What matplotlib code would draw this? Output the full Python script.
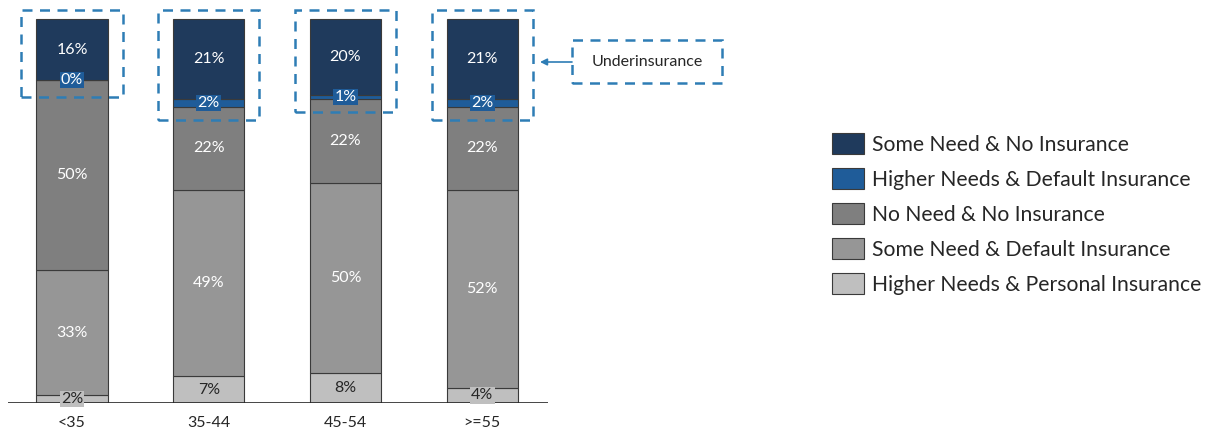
import matplotlib
matplotlib.use("Agg")
import matplotlib.pyplot as plt
from matplotlib.patches import Rectangle, Patch
import numpy as np

plt.rcParams['font.family'] = ['Lato', 'DejaVu Sans']

# Age groups and the share of each segment (bottom to top)
age_groups = ["<35", "35-44", "45-54", ">=55"]
segment_names = [
    "Higher Needs & Personal Insurance",
    "Some Need & Default Insurance",
    "No Need & No Insurance",
    "Higher Needs & Default Insurance",
    "Some Need & No Insurance",
]
higher_personal = [2, 7, 8, 4]
some_default = [33, 49, 50, 52]
no_need_none = [50, 22, 22, 22]
higher_default = [0, 2, 1, 2]
some_none = [16, 21, 20, 21]

series = [higher_personal, some_default, no_need_none, higher_default, some_none]
colors = ["#BFBFBF", "#969696", "#7F7F7F", "#1F5C99", "#1F3A5C"]
text_colors = ["#262626", "white", "white", "white", "white"]
callout_text = "Underinsurance"

W, H = 1223, 437
fig = plt.figure(figsize=(W / 100, H / 100), dpi=100)
ax = fig.add_axes([0, (H - 403) / H, 1, 399 / H])

# pixel layout expressed through bar centres
px_left, px_right = 8, 548
c0, step = 72, 136.7
ax.set_xlim((0 - c0) / step, (W - c0) / step)
ax.set_ylim(0, 105)
ax.axis("off")

x = np.arange(len(age_groups))
bar_w = 0.52
bottom = np.zeros(len(age_groups))
for vals, col, tcol in zip(series, colors, text_colors):
    vals = np.array(vals, dtype=float)
    ax.bar(x, vals, bar_w, bottom=bottom, color=col, edgecolor="#3A3A3A",
           linewidth=0.8, zorder=2)
    for xi, b, v in zip(x, bottom, vals):
        yc = b + v / 2
        if v < 5:
            ax.text(xi, yc, f"{int(v)}%", ha="center", va="center",
                    color=tcol, fontsize=11.5, zorder=4,
                    bbox=dict(boxstyle="square,pad=0.08", facecolor=col,
                              edgecolor="none"))
        else:
            ax.text(xi, yc, f"{int(v)}%", ha="center", va="center",
                    color=tcol, fontsize=11.5, zorder=4)
    bottom += vals

# baseline
ax.plot([(px_left - c0) / step, (px_right - c0) / step], [0, 0],
        color="#262626", lw=1.2, zorder=3, solid_capstyle="butt")
for xi, lab in zip(x, age_groups):
    ax.text(xi, -5.2, lab, ha="center", va="center", fontsize=11.5,
            color="#262626", clip_on=False)

# dashed boxes around the underinsured segments
dash_col = "#2E7DB5"
top_base = np.array(higher_personal) + np.array(some_default) + np.array(no_need_none)
box_half = 0.37
for xi, base in zip(x, top_base):
    y0 = base - 3.5 if base < 82 else base - 4.5
    rect = Rectangle((xi - box_half, y0), 2 * box_half, 103.5 - y0,
                     fill=False, edgecolor=dash_col, lw=1.8,
                     linestyle=(0, (4, 3)), zorder=5, clip_on=False)
    ax.add_patch(rect)

# callout box with arrow
def px2data(px, py):
    return ((px - c0) / step, (403 - py) / 3.8)

bx0, by0 = px2data(572, 83)
bx1, by1 = px2data(722, 40)
ax.add_patch(Rectangle((bx0, by0), bx1 - bx0, by1 - by0, fill=False,
                       edgecolor=dash_col, lw=1.8, linestyle=(0, (4, 3)),
                       zorder=5, clip_on=False))
ax.text((bx0 + bx1) / 2, (by0 + by1) / 2, callout_text, ha="center",
        va="center", fontsize=11.5, color="#262626")
ax0, ay = px2data(572, 62)
ax1, _ = px2data(540, 62)
ax.annotate("", xy=(ax1, ay), xytext=(ax0, ay),
            arrowprops=dict(arrowstyle="-|>", color=dash_col, lw=1.2,
                            mutation_scale=10, shrinkA=0, shrinkB=0))

# legend (top entry first)
handles = [Patch(facecolor=c, edgecolor="#3A3A3A", linewidth=0.8)
           for c in colors[::-1]]
fig.legend(handles, segment_names[::-1], loc="upper left",
           bbox_to_anchor=(832 / W, 1 - 133 / H), frameon=False,
           fontsize=15.2, handlelength=1.53, handleheight=1.17,
           handletextpad=0.35, labelspacing=0.63, borderaxespad=0,
           borderpad=0, labelcolor="#262626")

fig.savefig("out.png", dpi=100)
